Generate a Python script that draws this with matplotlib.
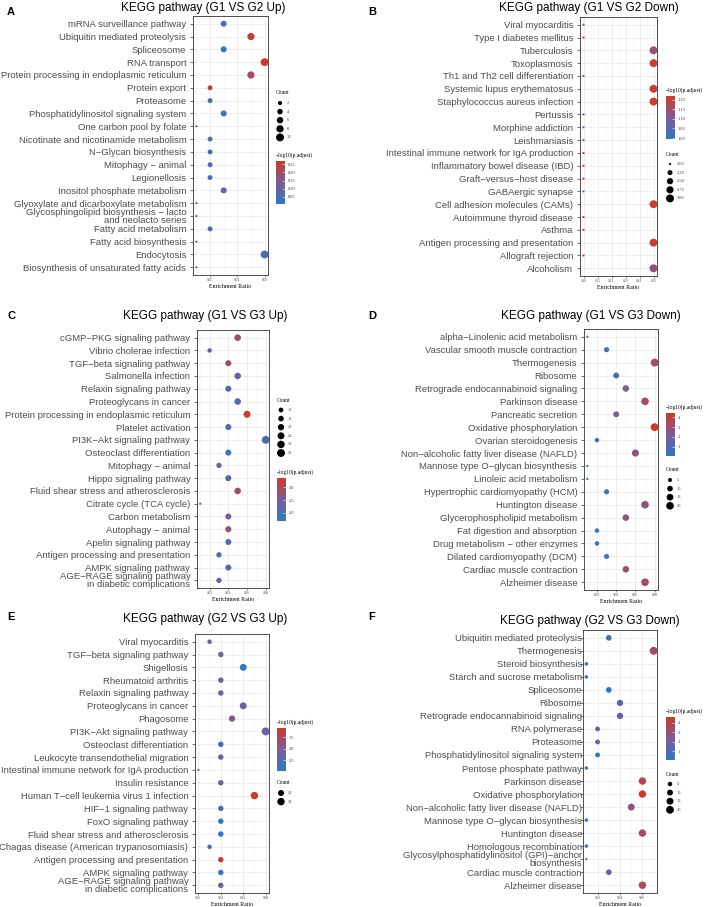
import matplotlib

matplotlib.use("Agg")
import matplotlib.pyplot as plt
import numpy as np
from matplotlib.colors import LinearSegmentedColormap, Normalize
from matplotlib.cm import ScalarMappable


W, H = 708, 907

# ---- panel A: G1 vs G2 up ----
a_terms = [
    "mRNA surveillance pathway", "Ubiquitin mediated proteolysis", "Spliceosome",
    "RNA transport", "Protein processing in endoplasmic reticulum", "Protein export",
    "Proteasome", "Phosphatidylinositol signaling system", "One carbon pool by folate",
    "Nicotinate and nicotinamide metabolism", "N−Glycan biosynthesis",
    "Mitophagy − animal", "Legionellosis", "Inositol phosphate metabolism",
    "Glyoxylate and dicarboxylate metabolism",
    "Glycosphingolipid biosynthesis − lacto\nand neolacto series",
    "Fatty acid metabolism", "Fatty acid biosynthesis", "Endocytosis",
    "Biosynthesis of unsaturated fatty acids",
]
a_ratio = [0.03, 0.05, 0.03, 0.06, 0.05, 0.02, 0.02, 0.03, 0.01, 0.02,
           0.02, 0.02, 0.02, 0.03, 0.01, 0.01, 0.02, 0.01, 0.06, 0.01]
a_count = [5, 8, 5, 10, 8, 3, 3, 5, 1, 3, 3, 3, 3, 5, 1, 1, 3, 1, 10, 1]
a_logp = [0.05, 0.25, 0.006, 0.27, 0.20, 0.25, 0.05, 0.05, 0.03, 0.05,
          0.02, 0.05, 0.05, 0.10, 0.01, 0.01, 0.05, 0.04, 0.06, 0.015]

# ---- panel B: G1 vs G2 down ----
b_terms = [
    "Viral myocarditis", "Type I diabetes mellitus", "Tuberculosis", "Toxoplasmosis",
    "Th1 and Th2 cell differentiation", "Systemic lupus erythematosus",
    "Staphylococcus aureus infection", "Pertussis", "Morphine addiction",
    "Leishmaniasis", "Intestinal immune network for IgA production",
    "Inflammatory bowel disease (IBD)", "Graft−versus−host disease",
    "GABAergic synapse", "Cell adhesion molecules (CAMs)",
    "Autoimmune thyroid disease", "Asthma", "Antigen processing and presentation",
    "Allograft rejection", "Alcoholism",
]
b_ratio = [0.10, 0.10, 0.15, 0.15, 0.10, 0.15, 0.15, 0.10, 0.10, 0.10,
           0.10, 0.10, 0.10, 0.10, 0.15, 0.10, 0.10, 0.15, 0.10, 0.15]
b_count = [2, 2, 3, 3, 2, 3, 3, 2, 2, 2, 2, 2, 2, 2, 3, 2, 2, 3, 2, 3]
b_logp = [1.22, 1.22, 1.14, 1.22, 0.995, 1.22, 1.22, 1.05, 0.995, 1.05,
          1.22, 1.22, 1.22, 0.995, 1.22, 1.22, 1.22, 1.22, 1.22, 1.14]

# ---- panel C: G1 vs G3 up ----
c_terms = [
    "cGMP−PKG signaling pathway", "Vibrio cholerae infection",
    "TGF−beta signaling pathway", "Salmonella infection", "Relaxin signaling pathway",
    "Proteoglycans in cancer", "Protein processing in endoplasmic reticulum",
    "Platelet activation", "PI3K−Akt signaling pathway", "Osteoclast differentiation",
    "Mitophagy − animal", "Hippo signaling pathway",
    "Fluid shear stress and atherosclerosis", "Citrate cycle (TCA cycle)",
    "Carbon metabolism", "Autophagy − animal", "Apelin signaling pathway",
    "Antigen processing and presentation", "AMPK signaling pathway",
    "AGE−RAGE signaling pathway\nin diabetic complications",
]
c_ratio = [0.05, 0.02, 0.04, 0.05, 0.04, 0.05, 0.06, 0.04, 0.08, 0.04,
           0.03, 0.04, 0.05, 0.01, 0.04, 0.04, 0.04, 0.03, 0.04, 0.03]
c_count = [22, 9, 18, 22, 18, 22, 26, 18, 35, 18, 13, 18, 22, 4, 18, 18, 18, 13, 18, 13]
c_logp = [2.85, 2.2, 2.8, 2.2, 2.15, 2.1, 3.37, 2.15, 2.05, 1.85,
          2.2, 2.15, 2.85, 1.67, 2.5, 2.8, 2.1, 2.15, 2.1, 2.2]

# ---- panel D: G1 vs G3 down ----
d_terms = [
    "alpha−Linolenic acid metabolism", "Vascular smooth muscle contraction",
    "Thermogenesis", "Ribosome", "Retrograde endocannabinoid signaling",
    "Parkinson disease", "Pancreatic secretion", "Oxidative phosphorylation",
    "Ovarian steroidogenesis", "Non−alcoholic fatty liver disease (NAFLD)",
    "Mannose type O−glycan biosynthesis", "Linoleic acid metabolism",
    "Hypertrophic cardiomyopathy (HCM)", "Huntington disease",
    "Glycerophospholipid metabolism", "Fat digestion and absorption",
    "Drug metabolism − other enzymes", "Dilated cardiomyopathy (DCM)",
    "Cardiac muscle contraction", "Alzheimer disease",
]
d_ratio = [0.01, 0.03, 0.08, 0.04, 0.05, 0.07, 0.04, 0.08, 0.02, 0.06,
           0.01, 0.01, 0.03, 0.07, 0.05, 0.02, 0.02, 0.03, 0.05, 0.07]
d_count = [3, 8, 22, 11, 14, 20, 11, 22, 6, 17, 3, 3, 8, 20, 14, 6, 6, 8, 14, 20]
d_logp = [0.1, 0.7, 3.2, 0.9, 2.0, 3.4, 2.2, 4.45, 0.4, 2.8,
          0.1, 0.2, 0.8, 2.8, 2.9, 0.4, 0.05, 0.8, 3.0, 3.3]

# ---- panel E: G2 vs G3 up ----
e_terms = [
    "Viral myocarditis", "TGF−beta signaling pathway", "Shigellosis",
    "Rheumatoid arthritis", "Relaxin signaling pathway", "Proteoglycans in cancer",
    "Phagosome", "PI3K−Akt signaling pathway", "Osteoclast differentiation",
    "Leukocyte transendothelial migration",
    "Intestinal immune network for IgA production", "Insulin resistance",
    "Human T−cell leukemia virus 1 infection", "HIF−1 signaling pathway",
    "FoxO signaling pathway", "Fluid shear stress and atherosclerosis",
    "Chagas disease (American trypanosomiasis)",
    "Antigen processing and presentation", "AMPK signaling pathway",
    "AGE−RAGE signaling pathway\nin diabetic complications",
]
e_ratio = [0.03, 0.04, 0.06, 0.04, 0.04, 0.06, 0.05, 0.08, 0.04, 0.04,
           0.02, 0.04, 0.07, 0.04, 0.04, 0.04, 0.03, 0.04, 0.04, 0.04]
e_count = [13, 17, 26, 17, 17, 26, 22, 34, 17, 17, 9, 17, 30, 17, 17, 17, 13, 17, 17, 17]
e_logp = [2.8, 2.8, 2.02, 2.8, 2.8, 2.8, 3.0, 2.7, 2.1, 2.75,
          2.8, 2.8, 3.9, 2.4, 2.05, 2.1, 2.4, 3.8, 2.05, 2.8]

# ---- panel F: G2 vs G3 down ----
f_terms = [
    "Ubiquitin mediated proteolysis", "Thermogenesis", "Steroid biosynthesis",
    "Starch and sucrose metabolism", "Spliceosome", "Ribosome",
    "Retrograde endocannabinoid signaling", "RNA polymerase", "Proteasome",
    "Phosphatidylinositol signaling system", "Pentose phosphate pathway",
    "Parkinson disease", "Oxidative phosphorylation",
    "Non−alcoholic fatty liver disease (NAFLD)", "Mannose type O−glycan biosynthesis",
    "Huntington disease", "Homologous recombination",
    "Glycosylphosphatidylinositol (GPI)−anchor\nbiosynthesis",
    "Cardiac muscle contraction", "Alzheimer disease",
]
f_ratio = [0.03, 0.07, 0.01, 0.01, 0.03, 0.04, 0.04, 0.02, 0.02, 0.02,
           0.01, 0.06, 0.06, 0.05, 0.01, 0.06, 0.01, 0.01, 0.03, 0.06]
f_count = [9, 21, 3, 3, 9, 12, 12, 6, 6, 6, 3, 18, 18, 15, 3, 18, 3, 2, 9, 18]
f_logp = [0.9, 3.3, 0.4, 0.2, 0.1, 1.4, 1.7, 1.7, 1.2, 0.3,
          0.4, 3.8, 4.6, 2.9, 0.3, 3.5, 0.3, 0.2, 1.3, 3.6]

cmap = LinearSegmentedColormap.from_list(
    "bluered", ["#2A7AC2", "#7E5B96", "#CC3B2B"])

SANS = "Liberation Sans"
SERIF = "Liberation Serif"


def px_box(left, top, right, bottom):
    return [left / W, 1 - bottom / H, (right - left) / W, (bottom - top) / H]


def dot_size(c, cmin, cmax, dmin=1.6, dmax=5.7):
    t = (np.asarray(c, dtype=float) - cmin) / (cmax - cmin)
    return (dmin + (dmax - dmin) * np.sqrt(np.clip(t, 0, 1))) ** 2


def draw_panel(fig, p):
    terms = p["terms"]
    n = len(terms)
    ypos = np.arange(n)[::-1] + 1
    cmin, cmax = min(p["count"]), max(p["count"])
    vmin, vmax = min(p["logp"]), max(p["logp"])
    norm = Normalize(vmin, vmax)

    ax = fig.add_axes(px_box(*p["box"]))
    ax.set_axisbelow(True)
    ax.scatter(p["ratio"], ypos, s=dot_size(p["count"], cmin, cmax),
               c=p["logp"], cmap=cmap, norm=norm, linewidths=0, zorder=3)
    ax.set_xlim(p["xlim"])
    ax.set_ylim(0.4, n + 0.6)
    ax.set_yticks(ypos)
    ax.set_yticklabels(terms, fontsize=6.8, color="#4D4D4D", family=SANS,
                       linespacing=0.85)
    ax.set_xticks(p["xmajor"])
    ax.set_xticklabels(["%.2f" % v for v in p["xmajor"]], fontsize=2.6,
                       family=SERIF, color="#4D4D4D")
    ax.set_xticks(p["xminor"], minor=True)
    ax.tick_params(axis="y", length=2, width=0.5, color="#333333",
                   pad=p.get("ypad", 2.8))
    ax.tick_params(axis="x", which="major", length=1.5, width=0.4,
                   color="#333333", pad=1)
    ax.tick_params(axis="x", which="minor", length=0)
    ax.grid(which="major", color="#EBEBEB", lw=0.6)
    ax.grid(which="minor", axis="x", color="#F4F4F4", lw=0.4)
    for sp in ax.spines.values():
        sp.set_color("#333333")
        sp.set_linewidth(0.6)
    ax.set_xlabel("Enrichment Ratio", fontsize=4.2, family=SERIF,
                  labelpad=1)

    fig.text(p["title_xy"][0] / W, 1 - p["title_xy"][1] / H, p["title"],
             fontsize=8.5, family=SANS, ha="center", va="center")
    fig.text(p["letter_xy"][0] / W, 1 - p["letter_xy"][1] / H, p["letter"],
             fontsize=8, family=SANS, weight="bold", ha="center", va="center")

    # colour bar legend
    lx = p["leg_x"]
    ty = p["cbar_y"]
    fig.text(lx / W, 1 - ty / H, "−log10(p.adjust)", fontsize=4.0,
             family=SERIF, ha="left", va="center")
    cax = fig.add_axes(px_box(lx, ty + 6, lx + 9, ty + 49))
    sm = ScalarMappable(norm=norm, cmap=cmap)
    cb = fig.colorbar(sm, cax=cax, ticks=p["cticks"])
    cb.outline.set_visible(False)
    cax.set_yticklabels([p["cfmt"] % v for v in p["cticks"]], fontsize=3.2,
                        family=SERIF, color="#333333")
    cax.tick_params(direction="in", color="white", length=2, width=0.4, pad=2)

    # size legend
    breaks = p["breaks"]
    cy = p["count_y"]
    step = 8.6
    fig.text(lx / W, 1 - cy / H, "Count", fontsize=4.0, family=SERIF,
             ha="left", va="center")
    nb = len(breaks)
    top = cy + 10 - step / 2
    lax = fig.add_axes(px_box(lx, top, lx + 30, top + nb * step))
    lax.set_xlim(0, 30)
    lax.set_ylim(nb - 0.5, -0.5)
    lax.axis("off")
    idx = np.arange(nb)
    lax.scatter(np.full(nb, 4.0), idx, s=dot_size(breaks, cmin, cmax),
                color="black", linewidths=0)
    for i, b in enumerate(breaks):
        lax.text(11, i, p["bfmt"] % b, fontsize=3.2, family=SERIF,
                 va="center", ha="left", color="#333333")


panels = [
    dict(letter="A", letter_xy=(11, 12), title="KEGG pathway (G1 VS G2 Up)",
         title_xy=(203, 8), box=(193, 16, 268, 275), terms=a_terms,
         ratio=a_ratio, count=a_count, logp=a_logp, xlim=(0.0075, 0.0625),
         xmajor=[0.02, 0.04, 0.06], xminor=[0.01, 0.03, 0.05],
         cticks=[0.05, 0.10, 0.15, 0.20, 0.25], cfmt="%.2f",
         breaks=[2, 4, 6, 8, 10], bfmt="%d", leg_x=276, cbar_y=155, count_y=93),
    dict(letter="B", letter_xy=(372, 12), title="KEGG pathway (G1 VS G2 Down)",
         title_xy=(589, 8), box=(580, 17, 657, 276), terms=b_terms,
         ratio=b_ratio, count=b_count, logp=b_logp, xlim=(0.0975, 0.1525),
         xmajor=[0.10, 0.11, 0.12, 0.13, 0.14, 0.15],
         xminor=[0.105, 0.115, 0.125, 0.135, 0.145],
         cticks=[1.00, 1.05, 1.10, 1.15, 1.20], cfmt="%.2f",
         breaks=[2.00, 2.25, 2.50, 2.75, 3.00], bfmt="%.2f",
         leg_x=666, cbar_y=90, count_y=154),
    dict(letter="C", letter_xy=(11, 316), title="KEGG pathway (G1 VS G3 Up)",
         title_xy=(205, 316), box=(197, 330, 269, 588), terms=c_terms,
         ratio=c_ratio, count=c_count, logp=c_logp, xlim=(0.0065, 0.0835),
         xmajor=[0.02, 0.04, 0.06, 0.08], xminor=[0.01, 0.03, 0.05, 0.07],
         cticks=[2.0, 2.5, 3.0], cfmt="%.1f",
         breaks=[10, 15, 20, 25, 30, 35], bfmt="%d",
         leg_x=277, cbar_y=472, count_y=400),
    dict(letter="D", letter_xy=(372, 316), title="KEGG pathway (G1 VS G3 Down)",
         title_xy=(591, 316), box=(584, 329, 658, 590), terms=d_terms,
         ratio=d_ratio, count=d_count, logp=d_logp, xlim=(0.0065, 0.0835),
         xmajor=[0.02, 0.04, 0.06, 0.08], xminor=[0.01, 0.03, 0.05, 0.07],
         cticks=[1, 2, 3, 4], cfmt="%d",
         breaks=[5, 10, 15, 20], bfmt="%d",
         leg_x=666, cbar_y=407, count_y=470),
    dict(letter="E", letter_xy=(11, 617), title="KEGG pathway (G2 VS G3 Up)",
         title_xy=(205, 619), box=(195, 634, 269, 893), terms=e_terms,
         ratio=e_ratio, count=e_count, logp=e_logp, xlim=(0.017, 0.083),
         xmajor=[0.02, 0.04, 0.06, 0.08], xminor=[0.03, 0.05, 0.07],
         cticks=[2.5, 3.0, 3.5], cfmt="%.1f",
         breaks=[20, 30], bfmt="%d",
         leg_x=277, cbar_y=722, count_y=783),
    dict(letter="F", letter_xy=(372, 617), title="KEGG pathway (G2 VS G3 Down)",
         title_xy=(590, 621), box=(583, 630, 657, 893), terms=f_terms,
         ratio=f_ratio, count=f_count, logp=f_logp, xlim=(0.007, 0.073),
         xmajor=[0.02, 0.04, 0.06], xminor=[0.01, 0.03, 0.05, 0.07],
         cticks=[1, 2, 3, 4], cfmt="%d",
         breaks=[5, 10, 15, 20], bfmt="%d", ypad=-1.2,
         leg_x=666, cbar_y=711, count_y=774),
]


def main():
    fig = plt.figure(figsize=(W / 100, H / 100), dpi=100)
    fig.patch.set_facecolor("white")
    for p in panels:
        draw_panel(fig, p)
    fig.savefig("out.png", dpi=100, facecolor="white")
    plt.close(fig)


if __name__ == "__main__":
    main()
